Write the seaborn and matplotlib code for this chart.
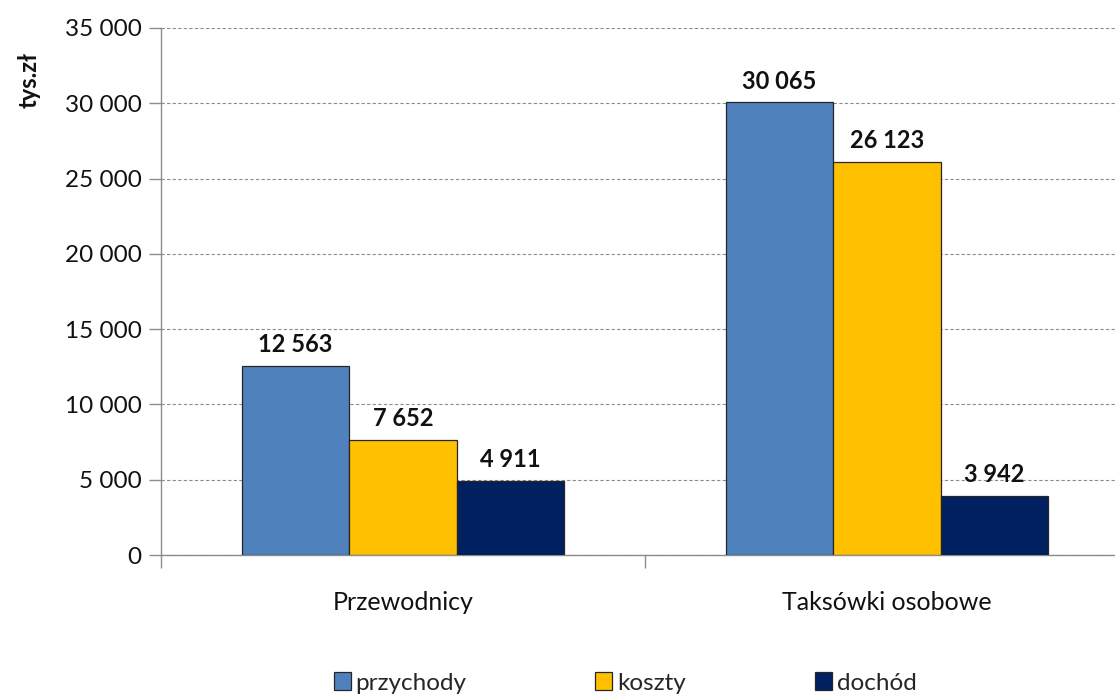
import matplotlib
matplotlib.use("Agg")
import matplotlib.pyplot as plt
import seaborn as sns
import pandas as pd
from matplotlib.patches import Patch
from matplotlib.ticker import FuncFormatter, MultipleLocator

categories = ["Przewodnicy", "Taksówki osobowe"]
series = ["przychody", "koszty", "dochód"]
przychody = [12563, 30065]
koszty = [7652, 26123]
dochod = [4911, 3942]
colors = ["#4F81BD", "#FFC000", "#002060"]

df = pd.DataFrame({
    "kategoria": categories * 3,
    "seria": [s for s in series for _ in categories],
    "wartosc": przychody + koszty + dochod,
})

sns.set_theme(style="white")
plt.rcParams["font.family"] = ["Lato", "DejaVu Sans"]

fig = plt.figure(figsize=(11.15, 6.96), dpi=100)
ax = fig.add_axes([161 / 1115, 1 - 555 / 696, 968 / 1115, (555 - 28) / 696])

sns.barplot(data=df, x="kategoria", y="wartosc", hue="seria", hue_order=series,
            order=categories, palette=colors, width=0.666, saturation=1,
            edgecolor="#262626", linewidth=0.9, ax=ax, legend=False, zorder=3)

for cont in ax.containers:
    for bar in cont:
        h = bar.get_height()
        ax.annotate(f"{int(h):,}".replace(",", " "),
                    (bar.get_x() + bar.get_width() / 2, h),
                    xytext=(0, 7), textcoords="offset points",
                    ha="center", va="bottom", fontsize=17, fontweight="bold",
                    color="#111111")

ax.set_xlim(-0.5, 1.5)
ax.set_ylim(0, 35000)
ax.yaxis.set_major_locator(MultipleLocator(5000))
ax.yaxis.set_major_formatter(FuncFormatter(lambda v, p: f"{int(v):,}".replace(",", " ")))
ax.grid(axis="y", linestyle=(0, (3, 2)), color="#8c8c8c", linewidth=0.8, zorder=0)
ax.set_axisbelow(True)

for s in ["top", "right"]:
    ax.spines[s].set_visible(False)
for s in ["left", "bottom"]:
    ax.spines[s].set_color("#8c8c8c")
    ax.spines[s].set_linewidth(1.0)

ax.set_xticks([-0.5, 0.5, 1.5], minor=False)
ax.set_xticklabels([])
ax.set_xticks([0, 1], minor=True)
ax.set_xticklabels(categories, minor=True)
ax.tick_params(axis="x", which="major", length=9, width=1, color="#8c8c8c", direction="out", bottom=True)
ax.tick_params(axis="x", which="minor", length=0, pad=26, labelsize=18, labelcolor="#111111")
ax.tick_params(axis="y", length=9, width=1, color="#8c8c8c", direction="out", left=True,
               labelsize=17.5, labelcolor="#111111", pad=5)
ax.set_xlabel("")
ax.set_ylabel("")
fig.text(29 / 1115, 1 - 80 / 696, "tys.zł", rotation=90, ha="center", va="center",
         fontsize=17, fontweight="bold", color="#111111")

handles = [Patch(facecolor=c, edgecolor="#262626", linewidth=0.9) for c in colors]
fig.legend(handles, series, loc="center", bbox_to_anchor=(625 / 1115, 1 - 683 / 696),
           ncol=3, frameon=False, fontsize=17.5, handlelength=0.7, handleheight=0.7,
           handletextpad=0.2, columnspacing=5.3, borderaxespad=0)

fig.savefig("out.png", dpi=100)
